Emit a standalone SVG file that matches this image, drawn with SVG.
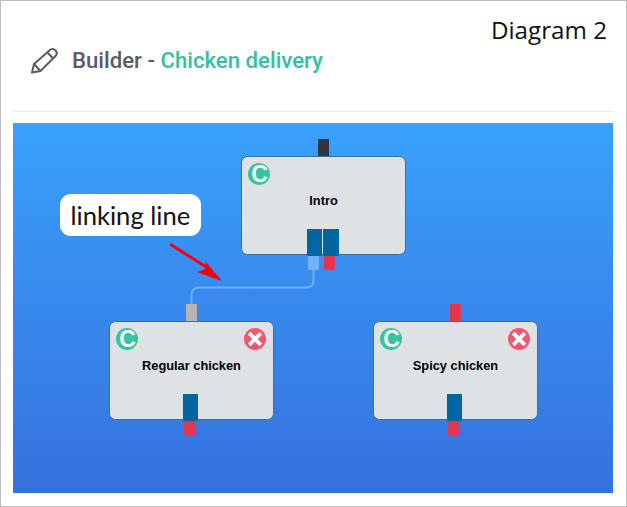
<svg xmlns="http://www.w3.org/2000/svg" width="627" height="507" viewBox="0 0 627 507">
  <style>
    .card { fill: #dfe2e5; stroke: #3d6f95; stroke-width: 1; }
    .name { font: bold 12.800px "Liberation Sans", Arial, sans-serif; fill: #000; text-anchor: middle; }
    .out { fill: #0066a2; }
    .red { fill: #e1364b; }
    .badge { font: bold 23px "Liberation Sans", Arial, sans-serif; fill: #fff; text-anchor: middle; }
    .x { stroke: #fff; stroke-width: 4; stroke-linecap: butt; fill: none; }
  </style>
  <defs>
    <linearGradient id="canvas" x1="0" y1="0" x2="0" y2="1">
      <stop offset="0" stop-color="#39a1fb"/>
      <stop offset="1" stop-color="#3671de"/>
    </linearGradient>
    <g id="copy">
      <circle r="11" fill="#37c3a1"/>
      <text class="badge" x="0.500" y="8">C</text>
    </g>
    <g id="remove">
      <circle r="11" fill="#f5566f"/>
      <path class="x" d="M-5.8 -5.8L5.8 5.8M5.8 -5.8L-5.8 5.8"/>
    </g>
  </defs>

  <rect x="0.5" y="0.5" width="626" height="506" fill="#fff" stroke="#bdbdbd"/>

  <g id="header">
    <g fill="none" stroke="#5b5b66" stroke-width="2" stroke-linejoin="round">
      <path d="M32 72.5L34 64L50.500 49.500Q53 48 55.500 50.500Q58 53 56 55.500L40.500 71Z"/>
      <path d="M34 64L40.500 71M47.500 52.500L53.500 59"/>
    </g>
    <text x="72" y="68" font-family="Roboto, sans-serif" font-size="22.200" font-weight="500" fill="#5c5c64">Builder - <tspan fill="#35c0a0">Chicken delivery</tspan></text>
    <text x="607" y="39" text-anchor="end" font-family="'Open Sans', sans-serif" font-size="24.200" fill="#111">Diagram 2</text>
    <rect x="13" y="111" width="600" height="1" fill="#ececec"/>
  </g>

  <rect id="canvas-area" x="13" y="123" width="600" height="370" fill="url(#canvas)"/>

  <g id="connectors">
    <path d="M313.500 270V280Q313.500 287.500 306 287.500H199Q191.500 287.500 191.500 295V304" fill="none" stroke="#6fb0fb" stroke-width="2"/>
    <path d="M170 244L211 270" stroke="#f4000c" stroke-width="3" fill="none"/>
    <path d="M222 281L197 272L205 269L206 262Z" fill="#f4000c"/>
  </g>

  <g id="callout">
    <rect x="60" y="194" width="141" height="42" rx="11" fill="#fff"/>
    <text x="70.500" y="225" font-family="Lato, sans-serif" font-size="25.600" fill="#111">linking line</text>
  </g>

  <g id="node-intro">
    <rect x="318" y="139" width="11" height="17" fill="#32353e"/>
    <rect class="card" x="241.500" y="156.500" width="164" height="98" rx="6"/>
    <use href="#copy" x="259" y="174"/>
    <text class="name" x="323.500" y="205">Intro</text>
    <rect class="out" x="307" y="229" width="15" height="27"/>
    <rect class="out" x="323" y="229" width="16" height="27"/>
    <rect x="308" y="256" width="11" height="14" fill="#72b1fb"/>
    <rect class="red" x="324" y="256" width="11" height="14"/>
  </g>

  <g id="node-regular">
    <rect x="186" y="304" width="11" height="17" fill="#b5b5b5"/>
    <rect class="card" x="109.500" y="321.500" width="164" height="98" rx="6"/>
    <use href="#copy" x="127" y="339"/>
    <use href="#remove" x="255" y="339"/>
    <text class="name" x="191.500" y="370">Regular chicken</text>
    <rect class="out" x="183" y="394" width="15" height="27"/>
    <rect class="red" x="184" y="421" width="11" height="14"/>
  </g>

  <g id="node-spicy">
    <rect class="red" x="450" y="304" width="11" height="17"/>
    <rect class="card" x="373.500" y="321.500" width="164" height="98" rx="6"/>
    <use href="#copy" x="391" y="339"/>
    <use href="#remove" x="519" y="339"/>
    <text class="name" x="455.500" y="370">Spicy chicken</text>
    <rect class="out" x="447" y="394" width="15" height="27"/>
    <rect class="red" x="448" y="421" width="11" height="14"/>
  </g>
</svg>
